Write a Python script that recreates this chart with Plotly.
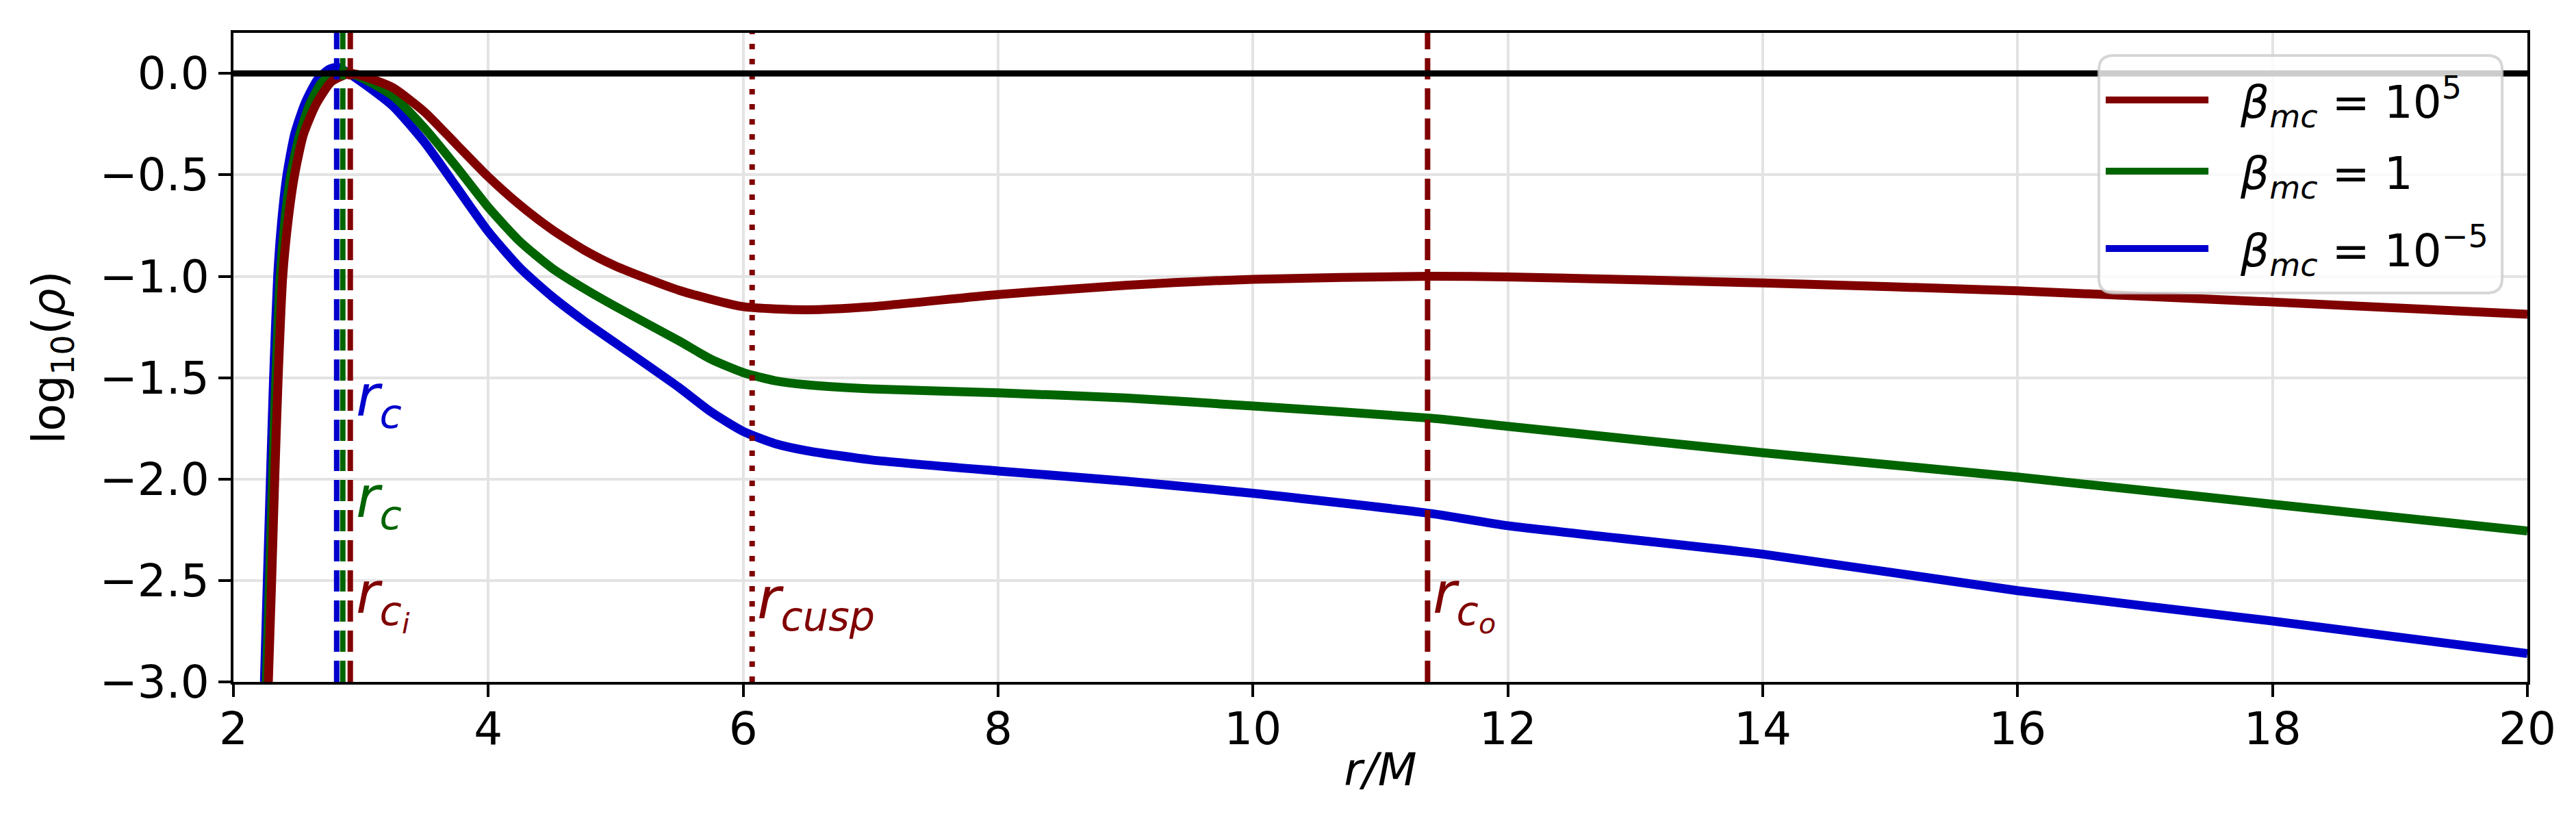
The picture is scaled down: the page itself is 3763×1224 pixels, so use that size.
import plotly.graph_objects as go

# ---------------- data ----------------
beta_labels = ["<i>β</i><sub><i>mc</i></sub> = 10<sup>5</sup>",
               "<i>β</i><sub><i>mc</i></sub> = 1",
               "<i>β</i><sub><i>mc</i></sub> = 10<sup>−5</sup>"]

r_red = [2.274, 2.30, 2.324, 2.351, 2.387, 2.43, 2.48, 2.55, 2.65, 2.77, 2.91,
         3.0, 3.25, 3.5, 3.75, 4.0, 4.25, 4.5, 4.75, 5.0, 5.5, 6.0, 6.5, 7.0, 8.0, 9.0,
         10.0, 11.4, 12.0, 14.0, 16.0, 18.0, 20.0]
rho_red = [-3.0, -2.5, -2.0, -1.5, -1.0, -0.72, -0.5, -0.3, -0.15, -0.04, 0.0,
           -0.01, -0.07, -0.19, -0.35, -0.51, -0.65, -0.77, -0.87, -0.95, -1.07, -1.15, -1.165, -1.15, -1.09, -1.045,
           -1.015, -1.0, -1.003, -1.033, -1.072, -1.127, -1.187]

r_green = [2.258, 2.283, 2.307, 2.333, 2.367, 2.405, 2.45, 2.52, 2.60, 2.70, 2.86,
           3.0, 3.25, 3.5, 3.75, 4.0, 4.25, 4.5, 4.75, 5.0, 5.5, 5.75, 6.0, 6.25, 6.5, 7.0, 8.0, 9.0,
           10.0, 11.4, 12.0, 14.0, 16.0, 18.0, 20.0]
rho_green = [-3.0, -2.5, -2.0, -1.5, -1.0, -0.72, -0.5, -0.3, -0.15, -0.04, 0.01,
             -0.02, -0.11, -0.27, -0.46, -0.66, -0.83, -0.96, -1.06, -1.15, -1.32, -1.41, -1.475, -1.515, -1.535, -1.555, -1.575, -1.60,
             -1.64, -1.70, -1.74, -1.87, -1.99, -2.124, -2.256]

r_blue = [2.243, 2.266, 2.29, 2.315, 2.347, 2.38, 2.42, 2.48, 2.56, 2.66, 2.75, 2.82,
          3.0, 3.25, 3.5, 3.75, 4.0, 4.25, 4.5, 4.75, 5.0, 5.5, 5.75, 6.0, 6.25, 6.5, 7.0, 8.0, 9.0,
          10.0, 11.4, 12.0, 14.0, 16.0, 18.0, 20.0]
rho_blue = [-3.0, -2.5, -2.0, -1.5, -1.0, -0.72, -0.5, -0.3, -0.15, -0.03, 0.02, 0.03,
            -0.04, -0.16, -0.34, -0.56, -0.78, -0.96, -1.10, -1.22, -1.33, -1.55, -1.67, -1.765, -1.825, -1.86, -1.905, -1.96, -2.01,
            -2.07, -2.17, -2.23, -2.37, -2.55, -2.70, -2.86]

# characteristic radii
r_c_blue = 2.81
r_c_green = 2.858
r_ci_red = 2.917
r_cusp_red = 6.07
r_co_red = 11.37

colors = ["#800000", "#006400", "#0000CD"]
x_ticks = [2, 4, 6, 8, 10, 12, 14, 16, 18, 20]
y_ticks = [0.0, -0.5, -1.0, -1.5, -2.0, -2.5, -3.0]

FONT = "DejaVu Sans"

fig = go.Figure()
legend_ids = ["legend", "legend2", "legend3"]
series = [(r_blue, rho_blue, 2), (r_green, rho_green, 1), (r_red, rho_red, 0)]
for xs, ys, i in series:
    fig.add_trace(go.Scatter(
        x=xs, y=ys, mode="lines", name="&nbsp;&nbsp;" + beta_labels[i],
        line=dict(color=colors[i], width=13, shape="spline", smoothing=0.6),
        legend=legend_ids[i],
    ))

# vertical reference lines
vlines = [(r_c_blue, colors[2], "31px,13px"), (r_c_green, colors[1], "31px,13px"),
          (r_ci_red, colors[0], "31px,13px"), (r_cusp_red, colors[0], "8px,14px"),
          (r_co_red, colors[0], "31px,13px")]
for xv, c, d in vlines:
    fig.add_shape(type="line", xref="x", yref="paper", x0=xv, x1=xv, y0=0, y1=1,
                  line=dict(color=c, width=8, dash=d), layer="above")

# horizontal line at 0
fig.add_shape(type="line", xref="paper", yref="y", x0=0, x1=1, y0=0, y1=0,
              line=dict(color="black", width=9), layer="above")

# legend frame (rounded, semi-transparent like matplotlib's)
x0, x1, y0, y1 = 0.8132, 0.9890, 0.5992, 0.9652
rx, ry = 0.0065, 0.022
frame = (f"M {x0+rx},{y0} L {x1-rx},{y0} Q {x1},{y0} {x1},{y0+ry} "
         f"L {x1},{y1-ry} Q {x1},{y1} {x1-rx},{y1} L {x0+rx},{y1} "
         f"Q {x0},{y1} {x0},{y1-ry} L {x0},{y0+ry} Q {x0},{y0} {x0+rx},{y0} Z")
fig.add_shape(type="path", xref="paper", yref="paper", path=frame,
              fillcolor="rgba(255,255,255,0.8)", line=dict(color="rgba(204,204,204,0.8)", width=4),
              layer="above")

lab_font = 84
annots = [
    (2.95, -1.7, "<i>r</i><sub><i>c</i></sub>", colors[2]),
    (2.95, -2.2, "<i>r</i><sub><i>c</i></sub>", colors[1]),
    (2.95, -2.7, "<i>r</i><sub><i>c</i><sub><i>i</i></sub></sub>", colors[0]),
    (r_cusp_red + 0.03, -2.7, "<i>r</i><sub><i>cusp</i></sub>", colors[0]),
    (r_co_red + 0.03, -2.7, "<i>r</i><sub><i>c</i><sub><i>o</i></sub></sub>", colors[0]),
]
for xa, ya, t, c in annots:
    fig.add_annotation(x=xa, y=ya, text=t, showarrow=False, xanchor="left", yanchor="bottom",
                       yshift=-30, font=dict(family=FONT, size=lab_font, color=c))

axis_common = dict(showline=True, linecolor="black", linewidth=4, mirror=True,
                   ticks="outside", ticklen=18, tickwidth=4, tickcolor="black",
                   showgrid=True, gridcolor="#e3e3e3", gridwidth=4, zeroline=False,
                   tickfont=dict(family=FONT, size=66, color="black"))

fig.update_xaxes(range=[2, 20], tickvals=x_ticks, ticktext=[str(v) for v in x_ticks],
                 ticklabelstandoff=-10,
                 title=dict(text="<i>r/M</i>", font=dict(family=FONT, size=66, color="black"), standoff=0),
                 **axis_common)
fig.update_yaxes(range=[-3, 0.2], tickvals=y_ticks,
                 ticktext=[f"{v:.1f}".replace("-", "−") for v in y_ticks],
                 title=dict(text="log<sub>10</sub>(<i>ρ</i>)", font=dict(family=FONT, size=66, color="black"), standoff=30),
                 **axis_common)

leg_common = dict(x=0.8147, xanchor="left", yanchor="middle",
                  bgcolor="rgba(0,0,0,0)", borderwidth=0,
                  font=dict(family=FONT, size=66, color="black"), itemwidth=150)
row_y = [0.8966, 0.7869, 0.6677]

fig.update_layout(
    width=3763, height=1224,
    margin=dict(l=333, r=79, t=40, b=236),
    paper_bgcolor="white", plot_bgcolor="white",
    font=dict(family=FONT, size=66, color="black"),
    legend=dict(y=row_y[0], **leg_common),
    legend2=dict(y=row_y[1], **leg_common),
    legend3=dict(y=row_y[2], **leg_common),
    showlegend=True,
)

fig.write_html("out.html")
